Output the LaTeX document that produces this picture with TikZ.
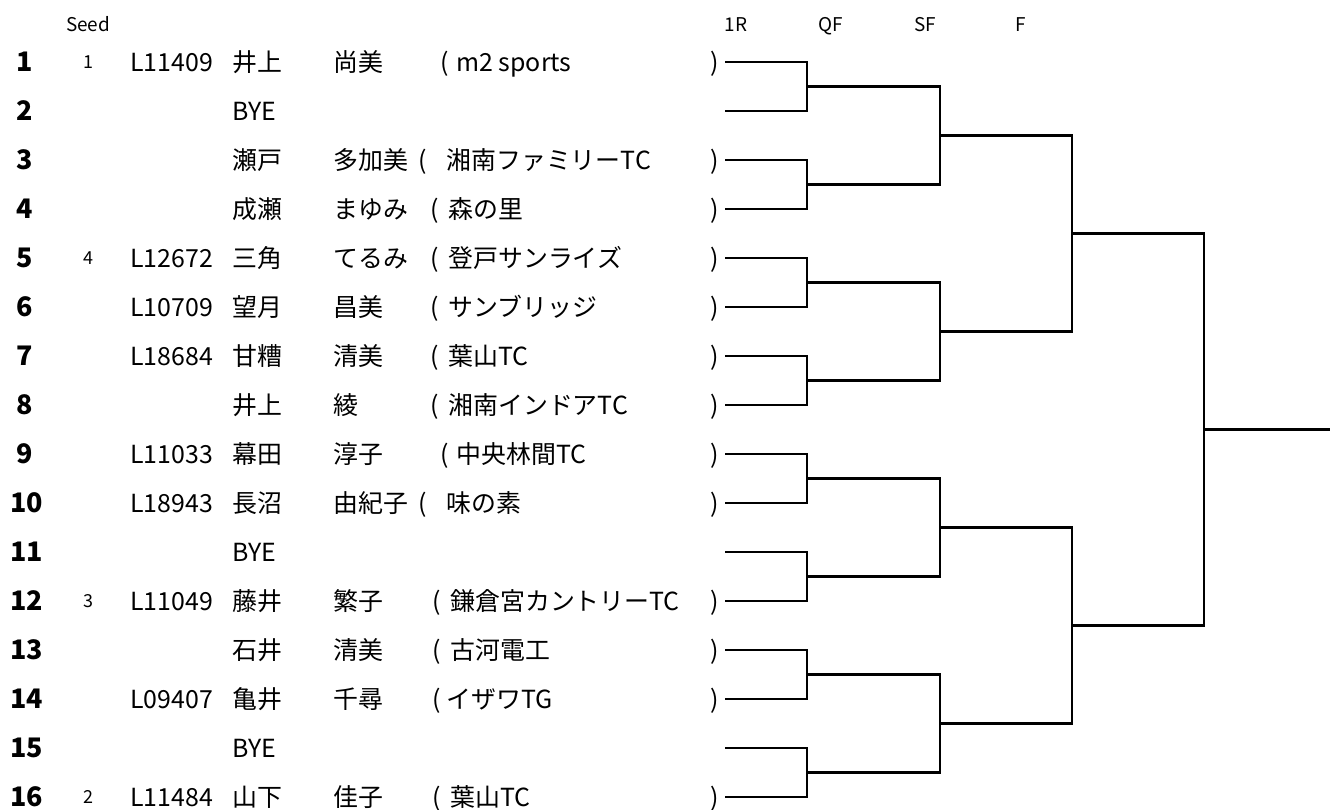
\documentclass[tikz,border=0pt]{standalone}
\usepackage{fontspec}
\setmainfont{Noto Sans CJK JP}
\begin{document}
\begin{tikzpicture}[line join=miter,
  rownum/.style={font=\fontsize{13.5}{14}\selectfont\bfseries,anchor=west,inner sep=0pt,text height=9.8bp,text depth=0pt},
  seednum/.style={font=\fontsize{9}{10}\selectfont,anchor=center,inner sep=0pt,text height=6.5bp,text depth=0pt},
  cell/.style={font=\fontsize{12.5}{14}\selectfont,anchor=west,inner sep=0pt,text height=9.1bp,text depth=0pt},
  paren/.style={cell,anchor=center},
  head/.style={font=\fontsize{9.5}{11}\selectfont,anchor=center,inner sep=0pt,text height=6.8bp,text depth=0pt},
  bracket/.style={line width=1.4bp,black},
]
%%
\useasboundingbox (0bp,0bp) rectangle (665bp,405bp);
\begin{scope}
  \fill[white] (0bp,0bp) rectangle (665bp,405bp);
\end{scope}
  % Node: headers
  \node[head] (seed_head) at (44bp,392.5bp) {Seed};
  \node[head] (head_1r) at (368bp,392.5bp) {1R};
  \node[head] (head_qf) at (415.5bp,392.5bp) {QF};
  \node[head] (head_sf) at (462.5bp,392.5bp) {SF};
  \node[head] (head_f) at (510.5bp,392.5bp) {F};
  % Node: row 1
  \node[rownum] (num_1) at (8bp,374bp) {1};
  \node[seednum] (seed_1) at (44bp,374bp) {1};
  \node[cell] (id_1) at (65bp,374bp) {L11409};
  \node[cell] (sur_1) at (116bp,374bp) {井上};
  \node[cell] (given_1) at (166.5bp,374bp) {尚美};
  \node[cell] (lp_1) at (220bp,374bp) {(};
  \node[cell] (club_1) at (228bp,374bp) {m2 sports};
  \node[paren] (rp_1) at (357.5bp,374bp) {)};
  % Node: row 2
  \node[rownum] (num_2) at (8bp,349.5bp) {2};
  \node[cell] (sur_2) at (116bp,349.5bp) {BYE};
  % Node: row 3
  \node[rownum] (num_3) at (8bp,325bp) {3};
  \node[cell] (sur_3) at (116bp,325bp) {瀬戸};
  \node[cell] (given_3) at (166.5bp,325bp) {多加美};
  \node[cell] (lp_3) at (209bp,325bp) {(};
  \node[cell] (club_3) at (223bp,325bp) {湘南ファミリーTC};
  \node[paren] (rp_3) at (357.5bp,325bp) {)};
  % Node: row 4
  \node[rownum] (num_4) at (8bp,300.5bp) {4};
  \node[cell] (sur_4) at (116bp,300.5bp) {成瀬};
  \node[cell] (given_4) at (166.5bp,300.5bp) {まゆみ};
  \node[cell] (lp_4) at (215bp,300.5bp) {(};
  \node[cell] (club_4) at (224bp,300.5bp) {森の里};
  \node[paren] (rp_4) at (357.5bp,300.5bp) {)};
  % Node: row 5
  \node[rownum] (num_5) at (8bp,276bp) {5};
  \node[seednum] (seed_5) at (44bp,276bp) {4};
  \node[cell] (id_5) at (65bp,276bp) {L12672};
  \node[cell] (sur_5) at (116bp,276bp) {三角};
  \node[cell] (given_5) at (166.5bp,276bp) {てるみ};
  \node[cell] (lp_5) at (215bp,276bp) {(};
  \node[cell] (club_5) at (224bp,276bp) {登戸サンライズ};
  \node[paren] (rp_5) at (357.5bp,276bp) {)};
  % Node: row 6
  \node[rownum] (num_6) at (8bp,251.5bp) {6};
  \node[cell] (id_6) at (65bp,251.5bp) {L10709};
  \node[cell] (sur_6) at (116bp,251.5bp) {望月};
  \node[cell] (given_6) at (166.5bp,251.5bp) {昌美};
  \node[cell] (lp_6) at (215bp,251.5bp) {(};
  \node[cell] (club_6) at (224bp,251.5bp) {サンブリッジ};
  \node[paren] (rp_6) at (357.5bp,251.5bp) {)};
  % Node: row 7
  \node[rownum] (num_7) at (8bp,227bp) {7};
  \node[cell] (id_7) at (65bp,227bp) {L18684};
  \node[cell] (sur_7) at (116bp,227bp) {甘糟};
  \node[cell] (given_7) at (166.5bp,227bp) {清美};
  \node[cell] (lp_7) at (215bp,227bp) {(};
  \node[cell] (club_7) at (224bp,227bp) {葉山TC};
  \node[paren] (rp_7) at (357.5bp,227bp) {)};
  % Node: row 8
  \node[rownum] (num_8) at (8bp,202.5bp) {8};
  \node[cell] (sur_8) at (116bp,202.5bp) {井上};
  \node[cell] (given_8) at (166.5bp,202.5bp) {綾};
  \node[cell] (lp_8) at (215bp,202.5bp) {(};
  \node[cell] (club_8) at (224bp,202.5bp) {湘南インドアTC};
  \node[paren] (rp_8) at (357.5bp,202.5bp) {)};
  % Node: row 9
  \node[rownum] (num_9) at (8bp,178bp) {9};
  \node[cell] (id_9) at (65bp,178bp) {L11033};
  \node[cell] (sur_9) at (116bp,178bp) {幕田};
  \node[cell] (given_9) at (166.5bp,178bp) {淳子};
  \node[cell] (lp_9) at (220bp,178bp) {(};
  \node[cell] (club_9) at (228bp,178bp) {中央林間TC};
  \node[paren] (rp_9) at (357.5bp,178bp) {)};
  % Node: row 10
  \node[rownum] (num_10) at (5bp,153.5bp) {10};
  \node[cell] (id_10) at (65bp,153.5bp) {L18943};
  \node[cell] (sur_10) at (116bp,153.5bp) {長沼};
  \node[cell] (given_10) at (166.5bp,153.5bp) {由紀子};
  \node[cell] (lp_10) at (209bp,153.5bp) {(};
  \node[cell] (club_10) at (223bp,153.5bp) {味の素};
  \node[paren] (rp_10) at (357.5bp,153.5bp) {)};
  % Node: row 11
  \node[rownum] (num_11) at (5bp,129bp) {11};
  \node[cell] (sur_11) at (116bp,129bp) {BYE};
  % Node: row 12
  \node[rownum] (num_12) at (5bp,104.5bp) {12};
  \node[seednum] (seed_12) at (44bp,104.5bp) {3};
  \node[cell] (id_12) at (65bp,104.5bp) {L11049};
  \node[cell] (sur_12) at (116bp,104.5bp) {藤井};
  \node[cell] (given_12) at (166.5bp,104.5bp) {繁子};
  \node[cell] (lp_12) at (216bp,104.5bp) {(};
  \node[cell] (club_12) at (225bp,104.5bp) {鎌倉宮カントリーTC};
  \node[paren] (rp_12) at (357.5bp,104.5bp) {)};
  % Node: row 13
  \node[rownum] (num_13) at (5bp,80bp) {13};
  \node[cell] (sur_13) at (116bp,80bp) {石井};
  \node[cell] (given_13) at (166.5bp,80bp) {清美};
  \node[cell] (lp_13) at (216bp,80bp) {(};
  \node[cell] (club_13) at (225bp,80bp) {古河電工};
  \node[paren] (rp_13) at (357.5bp,80bp) {)};
  % Node: row 14
  \node[rownum] (num_14) at (5bp,55.5bp) {14};
  \node[cell] (id_14) at (65bp,55.5bp) {L09407};
  \node[cell] (sur_14) at (116bp,55.5bp) {亀井};
  \node[cell] (given_14) at (166.5bp,55.5bp) {千尋};
  \node[cell] (lp_14) at (216bp,55.5bp) {(};
  \node[cell] (club_14) at (223bp,55.5bp) {イザワTG};
  \node[paren] (rp_14) at (357.5bp,55.5bp) {)};
  % Node: row 15
  \node[rownum] (num_15) at (5bp,31bp) {15};
  \node[cell] (sur_15) at (116bp,31bp) {BYE};
  % Node: row 16
  \node[rownum] (num_16) at (5bp,6.5bp) {16};
  \node[seednum] (seed_16) at (44bp,6.5bp) {2};
  \node[cell] (id_16) at (65bp,6.5bp) {L11484};
  \node[cell] (sur_16) at (116bp,6.5bp) {山下};
  \node[cell] (given_16) at (166.5bp,6.5bp) {佳子};
  \node[cell] (lp_16) at (216bp,6.5bp) {(};
  \node[cell] (club_16) at (225bp,6.5bp) {葉山TC};
  \node[paren] (rp_16) at (357.5bp,6.5bp) {)};
  % Node: draw lines
  \coordinate (e1) at (362.5bp,374bp);
  \coordinate (e2) at (362.5bp,349.5bp);
  \coordinate (e3) at (362.5bp,325bp);
  \coordinate (e4) at (362.5bp,300.5bp);
  \coordinate (e5) at (362.5bp,276bp);
  \coordinate (e6) at (362.5bp,251.5bp);
  \coordinate (e7) at (362.5bp,227bp);
  \coordinate (e8) at (362.5bp,202.5bp);
  \coordinate (e9) at (362.5bp,178bp);
  \coordinate (e10) at (362.5bp,153.5bp);
  \coordinate (e11) at (362.5bp,129bp);
  \coordinate (e12) at (362.5bp,104.5bp);
  \coordinate (e13) at (362.5bp,80bp);
  \coordinate (e14) at (362.5bp,55.5bp);
  \coordinate (e15) at (362.5bp,31bp);
  \coordinate (e16) at (362.5bp,6.5bp);
  % Node: 1R winners
  \coordinate (r1) at (403.5bp,361.75bp);
  \coordinate (r2) at (403.5bp,312.75bp);
  \coordinate (r3) at (403.5bp,263.75bp);
  \coordinate (r4) at (403.5bp,214.75bp);
  \coordinate (r5) at (403.5bp,165.75bp);
  \coordinate (r6) at (403.5bp,116.75bp);
  \coordinate (r7) at (403.5bp,67.75bp);
  \coordinate (r8) at (403.5bp,18.75bp);
  % Node: QF winners
  \coordinate (q1) at (470bp,337.25bp);
  \coordinate (q2) at (470bp,239.25bp);
  \coordinate (q3) at (470bp,141.25bp);
  \coordinate (q4) at (470bp,43.25bp);
  % Node: SF winners
  \coordinate (s1) at (536bp,288.25bp);
  \coordinate (s2) at (536bp,92.25bp);
  % Node: F winner
  \coordinate (f1) at (602bp,190.25bp);
  \coordinate (champ) at (665bp,190.25bp);
  % Edge: 1R
  \draw[bracket] (e1) -| (r1) |- (e2);
  \draw[bracket] (e3) -| (r2) |- (e4);
  \draw[bracket] (e5) -| (r3) |- (e6);
  \draw[bracket] (e7) -| (r4) |- (e8);
  \draw[bracket] (e9) -| (r5) |- (e10);
  \draw[bracket] (e11) -| (r6) |- (e12);
  \draw[bracket] (e13) -| (r7) |- (e14);
  \draw[bracket] (e15) -| (r8) |- (e16);
  % Edge: QF
  \draw[bracket] (r1) -| (q1) |- (r2);
  \draw[bracket] (r3) -| (q2) |- (r4);
  \draw[bracket] (r5) -| (q3) |- (r6);
  \draw[bracket] (r7) -| (q4) |- (r8);
  % Edge: SF
  \draw[bracket] (q1) -| (s1) |- (q2);
  \draw[bracket] (q3) -| (s2) |- (q4);
  % Edge: F
  \draw[bracket] (s1) -| (f1) |- (s2);
  \draw[bracket] (f1) -- (champ);
%
\end{tikzpicture}
\end{document}
